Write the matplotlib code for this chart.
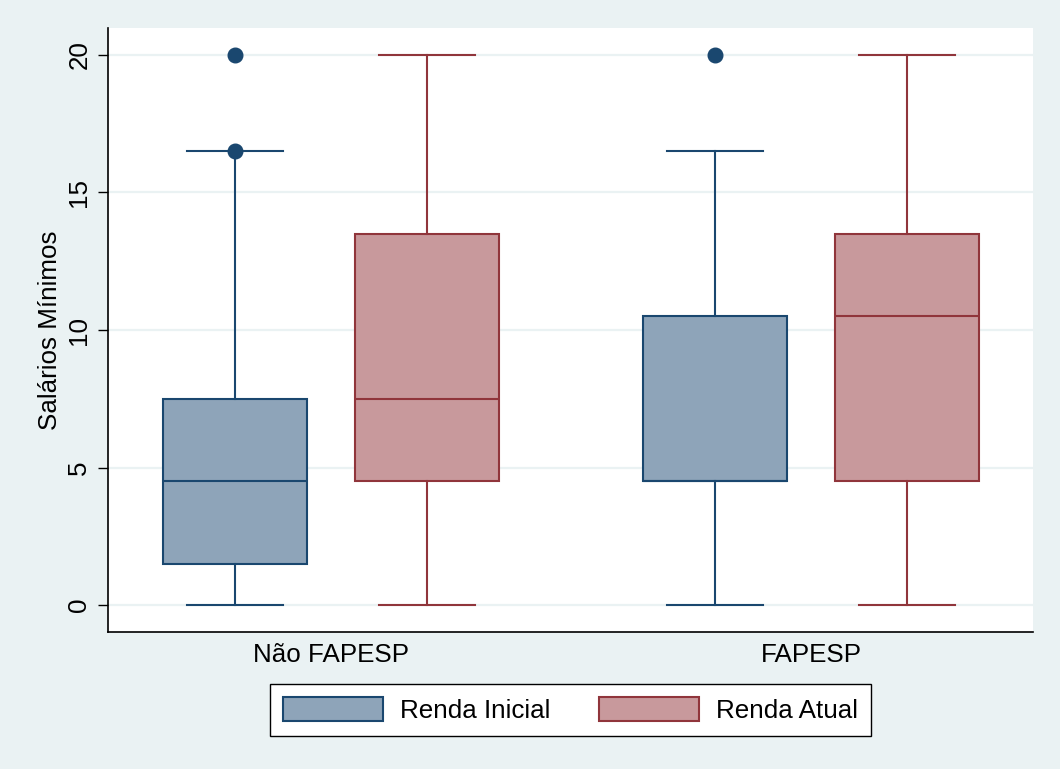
import numpy as np
import matplotlib.pyplot as plt
from matplotlib.patches import Patch

plt.rcParams['font.family'] = ['Liberation Sans', 'DejaVu Sans']

groups = ["Não FAPESP", "FAPESP"]
series = ["Renda Inicial", "Renda Atual"]

# box statistics per group: [whislo, q1, med, q3, whishi]
renda_inicial = [[0, 1.5, 4.5, 7.5, 16.5], [0, 4.5, 4.5, 10.5, 16.5]]
renda_atual = [[0, 4.5, 7.5, 13.5, 20], [0, 4.5, 10.5, 13.5, 20]]
outliers_inicial = [[16.5, 20], [20]]
outliers_atual = [[], []]

yticks = [0, 5, 10, 15, 20]

bg = '#eaf2f3'
edge_colors = ['#1a476f', '#90353b']
fill_colors = ['#8ea4b9', '#c8999c']
fs = 18.7


def make_stats(values, fliers):
    lo, q1, med, q3, hi = values
    return {'whislo': lo, 'q1': q1, 'med': med, 'q3': q3, 'whishi': hi, 'fliers': fliers}


fig = plt.figure(figsize=(10.6, 7.69), dpi=100, facecolor=bg)
ax = fig.add_axes([108 / 1060, 1 - 632 / 769, (1033 - 108) / 1060, (632 - 28) / 769])
ax.set_facecolor('white')

for yv in yticks:
    ax.axhline(yv, color=bg, lw=1.6, zorder=0)

offsets = [-0.2, 0.2]
for s_idx, (stats_list, fl_list) in enumerate([(renda_inicial, outliers_inicial),
                                                (renda_atual, outliers_atual)]):
    stats = [make_stats(v, f) for v, f in zip(stats_list, fl_list)]
    pos = [g + offsets[s_idx] for g in range(len(groups))]
    ec = edge_colors[s_idx]
    ax.bxp(stats, positions=pos, widths=0.3, patch_artist=True, capwidths=0.2,
           boxprops=dict(facecolor=fill_colors[s_idx], edgecolor=ec, linewidth=1.5),
           medianprops=dict(color=ec, linewidth=1.5),
           whiskerprops=dict(color=ec, linewidth=1.5),
           capprops=dict(color=ec, linewidth=1.5),
           flierprops=dict(marker='o', markerfacecolor=ec, markeredgecolor=ec, markersize=10.5),
           manage_ticks=False, zorder=2)

ax.set_xlim(-0.4646, 1.4625)
ax.set_ylim(-0.98, 20.98)
ax.set_xticks(range(len(groups)))
ax.set_xticklabels(groups, fontsize=fs)
ax.tick_params(axis='x', length=0, pad=8)
ax.set_yticks(yticks)
ax.set_yticklabels([str(v) for v in yticks], fontsize=fs, rotation=90, va='center')
ax.tick_params(axis='y', length=7, width=1, pad=5)
ax.set_ylabel("Salários Mínimos", fontsize=fs, labelpad=3.5)

for side in ['top', 'right']:
    ax.spines[side].set_visible(False)
for side in ['left', 'bottom']:
    ax.spines[side].set_linewidth(1.2)

handles = [Patch(facecolor=fill_colors[i], edgecolor=edge_colors[i], linewidth=1.5, label=series[i])
           for i in range(len(series))]
leg = fig.legend(handles=handles, loc='center', bbox_to_anchor=(570.5 / 1060, 1 - 710 / 769),
                 ncol=2, fontsize=fs, frameon=True, fancybox=False, framealpha=1,
                 handlelength=3.85, handleheight=1.05, columnspacing=1.9,
                 handletextpad=0.65, borderpad=0.5, borderaxespad=0)
leg.get_frame().set_edgecolor('black')
leg.get_frame().set_linewidth(1.0)

fig.savefig('out.png', dpi=100, facecolor=bg)
